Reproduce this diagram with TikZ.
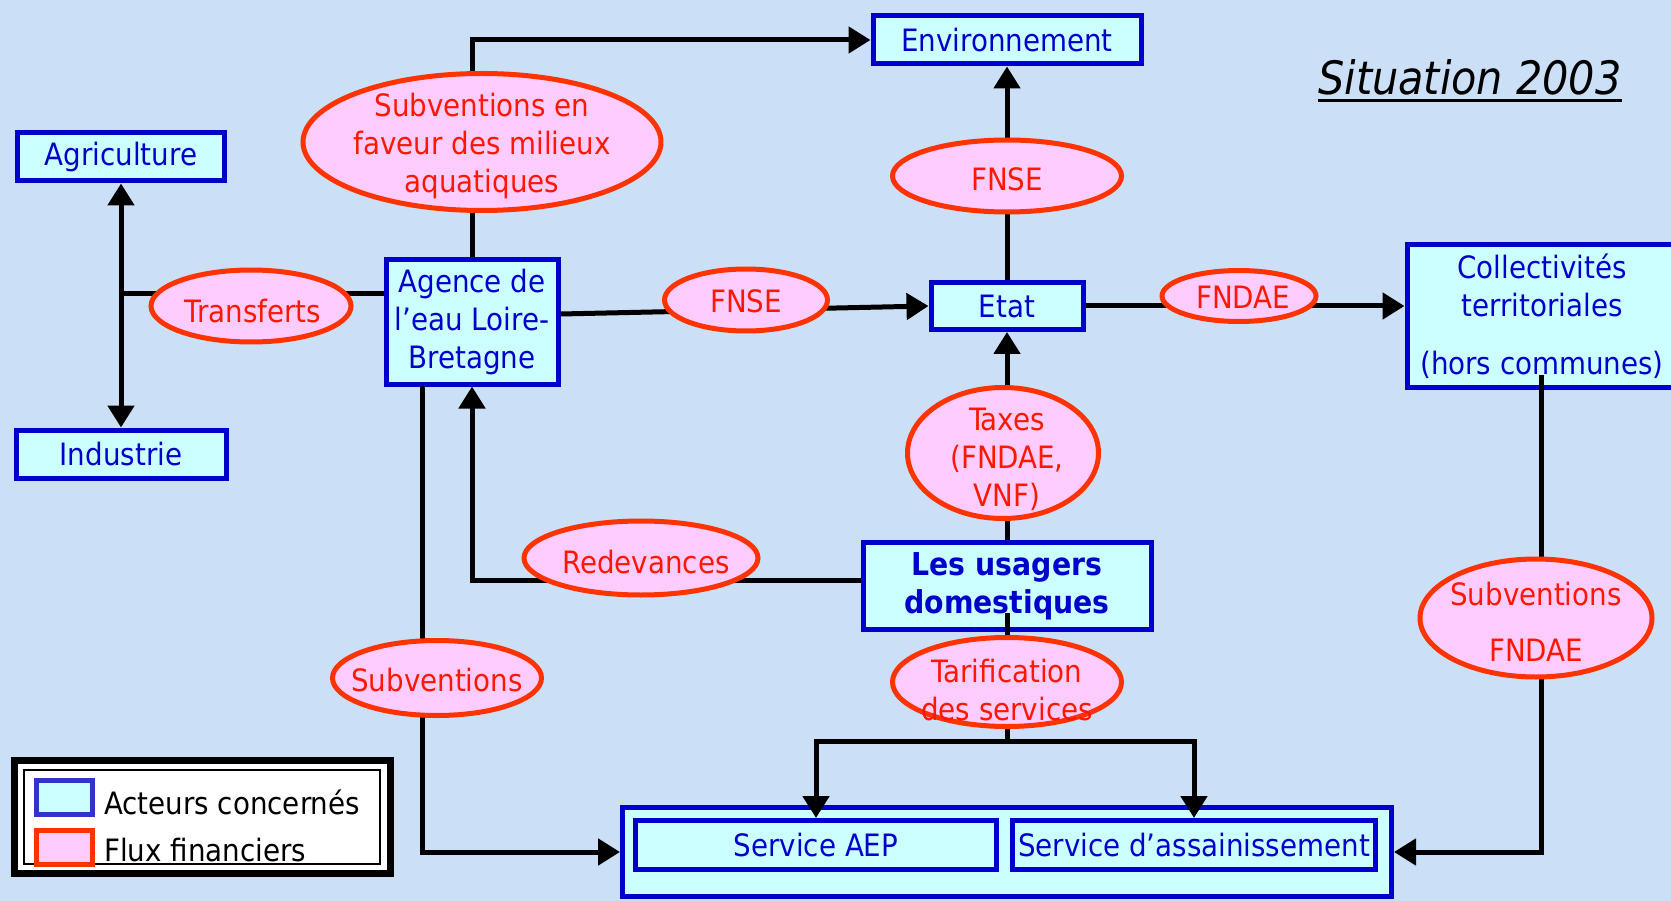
\documentclass[tikz,border=0pt]{standalone}
\usepackage{fontspec}
\setmainfont{DejaVu Sans Condensed}[BoldFont={DejaVu Sans Condensed Bold},ItalicFont={DejaVu Sans Condensed Oblique}]
\usetikzlibrary{shapes.geometric,arrows.meta}
\definecolor{fond}{RGB}{203,223,247}
\definecolor{acteurbleu}{RGB}{0,0,204}
\definecolor{acteurfond}{RGB}{204,255,255}
\definecolor{fluxrouge}{RGB}{255,51,0}
\definecolor{fluxfond}{RGB}{255,204,255}
\definecolor{fluxtexte}{RGB}{255,24,0}
\definecolor{clebleu}{RGB}{51,51,204}
\tikzset{
  acteur/.style 2 args={draw=acteurbleu,line width=5pt,fill=acteurfond,text=acteurbleu,
    inner sep=0pt,align=center,minimum width=#1,minimum height=#2},
  flux/.style 2 args={ellipse,draw=fluxrouge,line width=5pt,fill=fluxfond,
    inner sep=0pt,minimum width=#1,minimum height=#2},
  fluxtxt/.style={text=fluxtexte,align=center,inner sep=0pt},
  flowline/.style={line width=5pt},
  flow/.style={line width=5pt,-{Triangle[length=22pt,width=26pt]}},
}
\begin{document}
\begin{tikzpicture}
[x=1pt,y=-1pt,
  every node/.style={font=\fontsize{30.8}{38}\selectfont}]
\fill[fond] (0,0) rectangle (1671,901);
\useasboundingbox (0,0) rectangle (1671,901);
% acteurs
\node[acteur={268}{48}] (env) at (1007,40) {Environnement};
\node[acteur={207}{48}] (agri) at (121,157) {Agriculture};
\node[acteur={210}{48}] (indus) at (121,454) {Industrie};
\node[acteur={172}{124}] (agence) at (472,322) {Agence de\\l’eau Loire-\\Bretagne};
\node[acteur={152}{47}] (etat) at (1007,306) {Etat};
\node[acteur={270}{143}] (coll) at (1542,316) {Collectivités\\territoriales\\[20pt](hors communes)};
\node[acteur={288}{87},font=\fontsize{31.5}{38}\selectfont\bfseries] (usagers) at (1007,586) {Les usagers\\domestiques};
\node[acteur={769}{89}] (services) at (1007,852) {};
\node[acteur={361}{49}] (aep) at (816,845) {Service AEP};
\node[acteur={363}{49}] (assain) at (1194,845) {Service d’assainissement};
\node[font=\fontsize{46}{50}\selectfont\itshape,inner xsep=0pt,inner ysep=6pt,text depth=0pt] (situation) at (1470,77) {Situation 2003};
\draw[line width=3pt] (situation.south west) -- (situation.south east);
% flux
\coordinate (agsub) at (422,386);
\coordinate (transf-b) at (121,294);
\coordinate (usb) at (1007,613);
\coordinate (split) at (1007,741);
\coordinate (collb) at (1541,375);
\draw[flow] (agence.north) |- (env.west);
\draw[flowline] (agence.west |- transf-b) -- (transf-b);
\draw[flow,{Triangle[length=22pt,width=26pt]}-{Triangle[length=22pt,width=26pt]}] (agri.south) -- (indus.north);
\draw[flow] (agence.east |- 0,314) -- (etat.west);
\draw[flow] (etat.north) -- (env.south);
\draw[flow] (etat.east) -- (etat.east -| coll.west);
\draw[flow] (usagers.north) -- (etat.south);
\draw[flow] (usagers.west |- 0,580) -| (agence.south);
\draw[flow] (agsub) |- (services.west);
\draw[flowline] (usb) -- (split);
\draw[flow] (split) -| (aep.north);
\draw[flow] (split) -| (assain.north);
\draw[flow] (collb) |- (services.east);
\node[flux={358}{137}] (milieux) at (482,142) {};
\node[flux={229}{72}] (fnse-haut) at (1007,176) {};
\node[flux={200}{72}] (transferts) at (251,306) {};
\node[flux={163}{62}] (fnse-mil) at (746,300) {};
\node[flux={154}{51}] (fndae) at (1239,296) {};
\node[flux={191}{131}] (taxes) at (1003,453) {};
\node[flux={234}{74}] (redev) at (641,558) {};
\node[flux={209}{75}] (subv) at (437,678) {};
\node[flux={229}{89}] (tarif) at (1007,682) {};
\node[flux={232}{118}] (subv-fndae) at (1536,618) {};
\node[fluxtxt] (milieux-t) at (482,146) {Subventions en\\faveur des milieux\\aquatiques};
\node[fluxtxt] (fnse-haut-t) at (1007,179) {FNSE};
\node[fluxtxt] (transferts-t) at (253,311) {Transferts};
\node[fluxtxt] (fnse-mil-t) at (746,301) {FNSE};
\node[fluxtxt] (fndae-t) at (1243,297) {FNDAE};
\node[fluxtxt] (taxes-t) at (1007,459) {Taxes\\(FNDAE,\\VNF)};
\node[fluxtxt] (redev-t) at (646,562) {Redevances};
\node[fluxtxt] (subv-t) at (437,680) {Subventions};
\node[fluxtxt] (tarif-t) at (1007,690) {Tarification\\des services};
\node[fluxtxt] (subv-fndae-t) at (1536,622) {Subventions\\[18pt]FNDAE};
% legende
\node[draw=black,line width=7pt,fill=white,minimum width=376,minimum height=113,inner sep=0pt] (legende) at (202,817) {};
\node[draw=black,line width=1.2pt,minimum width=356,minimum height=94,inner sep=0pt] (legende-in) at (legende) {};
\node[draw=clebleu,line width=5pt,fill=acteurfond,minimum width=56,minimum height=34,inner sep=0pt] (cle-acteur) at (64,797) {};
\node[draw=fluxrouge,line width=5pt,fill=fluxfond,minimum width=56,minimum height=34,inner sep=0pt] (cle-flux) at (64,847) {};
\node[anchor=west,inner sep=0pt] (cle-acteur-t) at (104,802) {Acteurs concernés};
\node[anchor=west,inner sep=0pt] (cle-flux-t) at (104,850) {Flux financiers};
\end{tikzpicture}
\end{document}
